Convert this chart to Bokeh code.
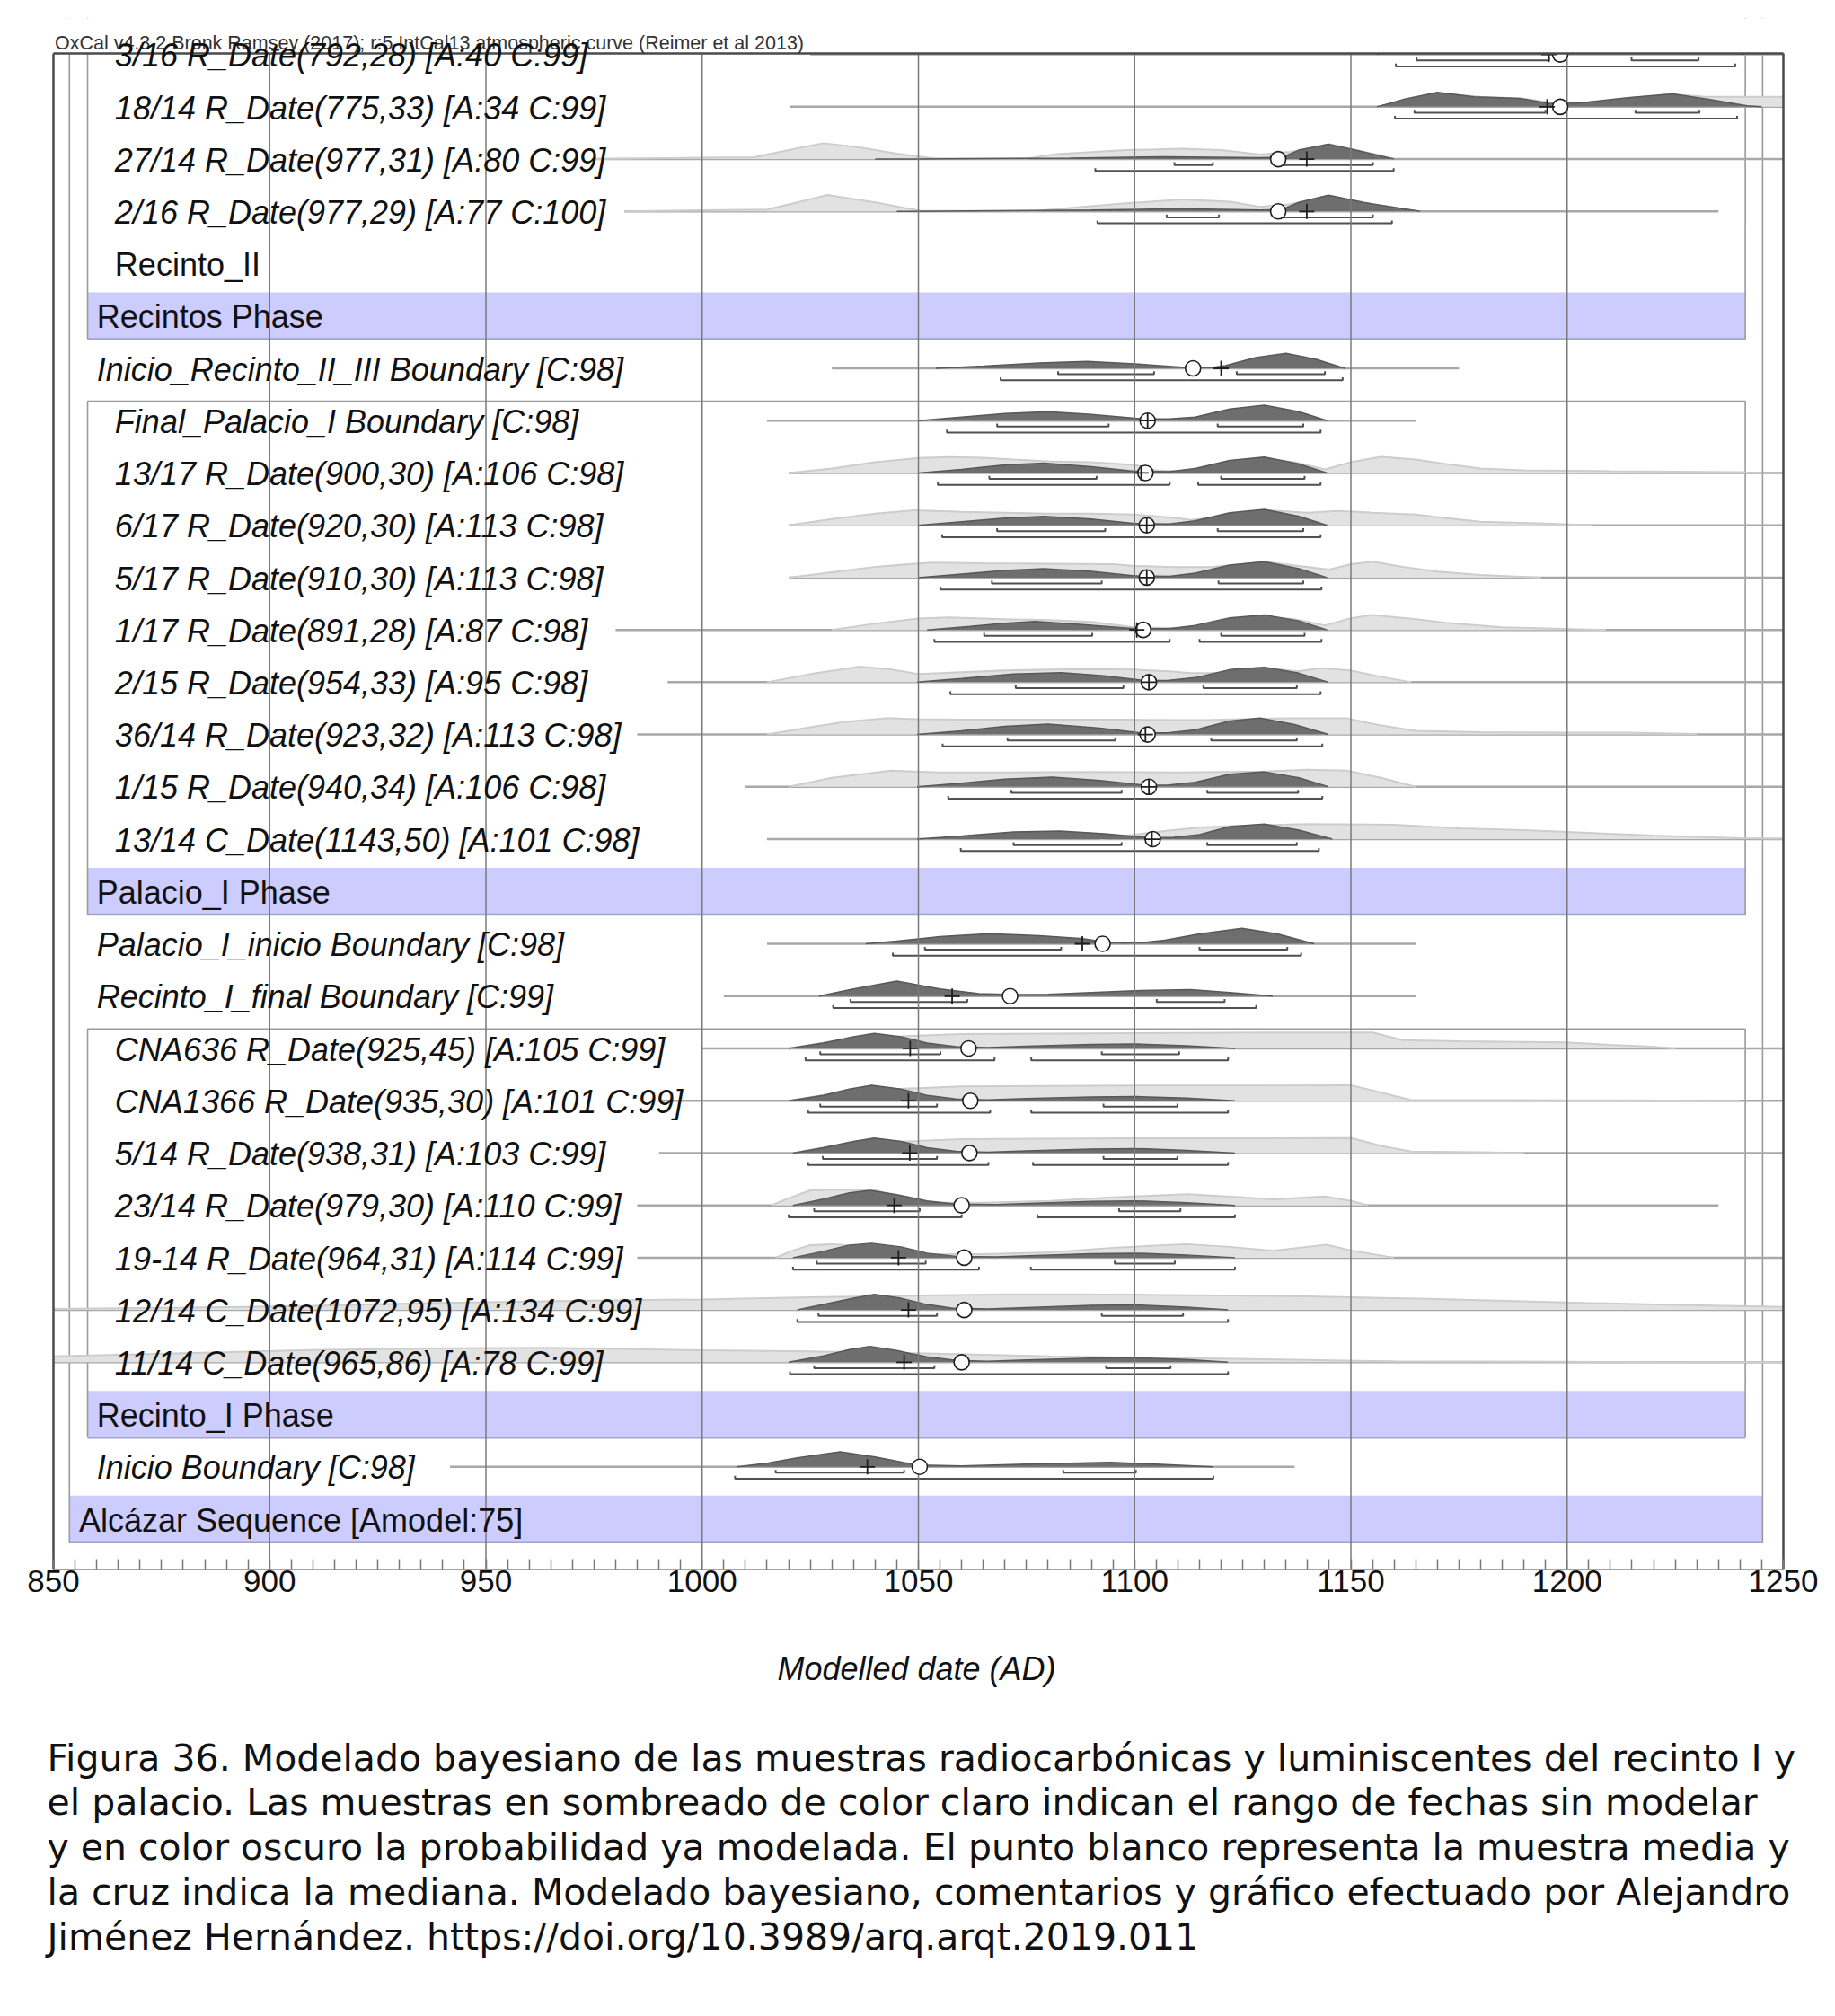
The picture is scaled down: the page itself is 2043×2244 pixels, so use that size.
from bokeh.plotting import figure
from bokeh.models import Range1d, FixedTicker, ColumnDataSource
from bokeh.layouts import column
from bokeh.embed import file_html
from bokeh.resources import INLINE
from bokeh.core.properties import value

# ------------------------------------------------------------------ data
HEADER = "OxCal v4.3.2 Bronk Ramsey (2017); r:5 IntCal13 atmospheric curve (Reimer et al 2013)"
X_TITLE = "Modelled date (AD)"
TICK_YEARS = [850, 900, 950, 1000, 1050, 1100, 1150, 1200, 1250]
MINOR_YEARS = [850 + 5 * k for k in range(81)]
GRID_YEARS = [900, 950, 1000, 1050, 1100, 1150, 1200]

ROW_LABELS = [
    "3/16 R_Date(792,28) [A:40 C:99]",
    "18/14 R_Date(775,33) [A:34 C:99]",
    "27/14 R_Date(977,31) [A:80 C:99]",
    "2/16 R_Date(977,29) [A:77 C:100]",
    "Recinto_II",
    "Recintos Phase",
    "Inicio_Recinto_II_III Boundary [C:98]",
    "Final_Palacio_I Boundary [C:98]",
    "13/17 R_Date(900,30) [A:106 C:98]",
    "6/17 R_Date(920,30) [A:113 C:98]",
    "5/17 R_Date(910,30) [A:113 C:98]",
    "1/17 R_Date(891,28) [A:87 C:98]",
    "2/15 R_Date(954,33) [A:95 C:98]",
    "36/14 R_Date(923,32) [A:113 C:98]",
    "1/15 R_Date(940,34) [A:106 C:98]",
    "13/14 C_Date(1143,50) [A:101 C:98]",
    "Palacio_I Phase",
    "Palacio_I_inicio Boundary [C:98]",
    "Recinto_I_final Boundary [C:99]",
    "CNA636 R_Date(925,45) [A:105 C:99]",
    "CNA1366 R_Date(935,30) [A:101 C:99]",
    "5/14 R_Date(938,31) [A:103 C:99]",
    "23/14 R_Date(979,30) [A:110 C:99]",
    "19-14 R_Date(964,31) [A:114 C:99]",
    "12/14 C_Date(1072,95) [A:134 C:99]",
    "11/14 C_Date(965,86) [A:78 C:99]",
    "Recinto_I Phase",
    "Inicio Boundary [C:98]",
    "Alcázar Sequence [Amodel:75]",
]
ROW_ITALIC = [True, True, True, True, False, False, True, True, True, True,
              True, True, True, True, True, True, False, True, True, True,
              True, True, True, True, True, True, False, True, False]
ROW_LEVEL = [2, 2, 2, 2, 2, 1, 1, 2, 2, 2, 2, 2, 2, 2, 2, 2, 1, 1, 1, 2,
             2, 2, 2, 2, 2, 2, 1, 1, 0]
PHASE_ROWS = [5, 16, 26]
SEQUENCE_ROW = 28

# prior range line (start, end) per row
LINE_RANGE = {
    0: (1025, 1250), 1: (1020.4, 1250), 2: (975, 1250), 3: (982, 1235),
    6: (1030, 1175), 7: (1015, 1165), 8: (1020, 1250), 9: (1020, 1250),
    10: (1020, 1250), 11: (980, 1250), 12: (992, 1250), 13: (985, 1250),
    14: (1010, 1250), 15: (1015, 1250), 17: (1015, 1165), 18: (1005, 1165),
    19: (1000, 1250), 20: (990, 1250), 21: (990, 1250), 22: (985, 1235),
    23: (985, 1250), 24: (850, 1250), 25: (850, 1250), 27: (941.7, 1137),
}

# unmodelled (light) likelihoods: (year, relative height)
LIGHT_CURVES = {
    1: [(1156, 0), (1165, 9), (1170, 15), (1180, 11), (1190, 9), (1197, 4), (1205, 5),
        (1215, 10), (1224, 14), (1232, 11), (1240, 11), (1250, 11)],
    2: [(975, 0), (1000, 1.7), (1012, 2), (1020, 10), (1028, 17.7), (1036, 13.3), (1045, 6),
        (1054, 0.5), (1075, 0.5), (1082, 5.7), (1098, 10), (1111, 11.7), (1120, 10),
        (1129, 5), (1136, 8), (1145, 16.5), (1155, 6), (1160, 0)],
    3: [(982, 0), (1000, 1.3), (1015, 2), (1022, 10), (1029, 18.3), (1040, 10), (1050.6, 0.5),
        (1077, 0.5), (1098, 9), (1111, 13.3), (1122, 10.7), (1129, 5), (1136, 8),
        (1145, 17.5), (1155, 7), (1166, 0)],
    8: [(1020, 0), (1030, 5), (1040, 12), (1050, 16.7), (1057, 17.7), (1065, 17), (1072, 15),
        (1080, 13), (1090, 12), (1100, 9), (1105, 3), (1110, 2), (1118, 6), (1125, 13),
        (1130, 16), (1137, 12), (1144, 4), (1150, 12), (1157, 18), (1165, 15), (1172, 10),
        (1180, 5), (1190, 3), (1210, 2), (1240, 1), (1245, 0)],
    9: [(1020, 0), (1030, 7), (1040, 13), (1049, 16.7), (1060, 15), (1070, 14), (1080, 13),
        (1090, 13), (1100, 12), (1110, 8), (1113, 6), (1120, 10), (1130, 17), (1140, 14),
        (1147, 16), (1155, 14), (1165, 12), (1172, 8), (1180, 4), (1195, 2), (1206, 0)],
    10: [(1020, 0), (1030, 6), (1040, 12), (1053, 16.7), (1065, 16), (1080, 15.5), (1095, 15),
         (1100, 13), (1109, 11.7), (1118, 12), (1125, 15), (1130, 17.7), (1138, 13), (1145, 9),
         (1150, 15), (1155, 17.7), (1162, 12), (1170, 6.7), (1180, 3), (1194, 0)],
    11: [(1030, 0), (1040, 7), (1050, 12.7), (1057, 14), (1070, 12), (1080, 11), (1090, 9),
         (1100, 3), (1110, 2), (1120, 8), (1130, 15), (1137, 12), (1144, 5), (1150, 13),
         (1155, 16.7), (1165, 12), (1172, 8), (1185, 3), (1209, 0)],
    12: [(1015, 0), (1025, 9), (1036.5, 17.3), (1044, 14), (1050, 9), (1060, 11), (1070, 13),
         (1080, 14), (1090, 14.5), (1100, 14), (1108, 12), (1113, 10), (1120, 10), (1130, 16),
         (1137.8, 12), (1143, 15.7), (1150, 13), (1157, 6), (1164, 0)],
    13: [(1015, 0), (1025, 8), (1033, 14), (1043, 18.3), (1050, 17), (1060, 16.5), (1080, 16.7),
         (1100, 16.5), (1116, 16), (1125, 17), (1135, 18), (1149, 18), (1157, 10), (1165, 4),
         (1180, 2.5), (1200, 2), (1214, 2), (1230, 0.5)],
    14: [(1020, 0), (1030, 10), (1043.7, 18), (1055, 16), (1070, 16), (1090, 16.5), (1110, 16),
         (1130, 17), (1140, 19), (1149, 18), (1157, 10), (1165, 0)],
    15: [(1092, 0), (1105, 8), (1115, 13), (1125, 15), (1140, 16.7), (1160, 16), (1175, 12),
         (1190, 10), (1200, 8), (1220, 4), (1240, 1), (1250, 0.5)],
    19: [(1020, 0), (1030, 8), (1040, 12), (1049.7, 14.3), (1060, 16), (1080, 16.5), (1100, 17),
         (1130, 17.7), (1155, 17.7), (1162, 9.3), (1175, 8), (1199.6, 6.7), (1210, 4),
         (1219.4, 2), (1225, 0)],
    20: [(1020, 0), (1030, 8), (1040, 12), (1049.7, 14), (1060, 16), (1080, 16.5), (1100, 17),
         (1130, 17), (1150, 17.3), (1157, 9), (1163.8, 1), (1200, 0.5), (1240, 0)],
    21: [(1021, 0), (1030, 8), (1040, 12), (1049.7, 13.3), (1060, 15.5), (1080, 16), (1100, 16.5),
         (1130, 16.5), (1150, 16.7), (1157, 8), (1164, 1.7), (1180, 1), (1190, 0)],
    22: [(1016, 0), (1020, 8), (1025, 16.7), (1030, 17.3), (1040, 17), (1050.7, 3), (1065, 3),
         (1080.5, 5), (1095, 9), (1112.2, 12.3), (1125, 9), (1132, 6.7), (1140, 9), (1144, 10),
         (1150, 5), (1154, 0)],
    23: [(1017, 0), (1021, 8), (1025, 14), (1030, 15), (1045, 10), (1052, 4), (1065, 4),
         (1080.5, 6), (1095, 11), (1112, 15), (1122, 12), (1132, 7.7), (1138, 11),
         (1144.4, 14.3), (1150, 8), (1159.9, 0)],
    24: [(850, 1), (880, 2.5), (910, 4.5), (941.6, 8), (970, 10), (1000, 11.7), (1025, 14),
         (1049.7, 16), (1072, 17.3), (1100, 17), (1120, 16), (1140, 15), (1170, 12),
         (1199.6, 8.3), (1225, 5.5), (1250, 3.3)],
    25: [(850, 6.5), (880, 10), (910, 13.5), (940, 15.5), (965, 16), (1000, 13.3), (1025, 12),
         (1049.7, 10), (1080.5, 6.7), (1100, 5), (1120, 4), (1140, 2.5), (1160, 1), (1200, 0.5),
         (1250, 0)],
}

# modelled (dark) posteriors: (year, relative height)
DARK_CURVES = {
    0: [(1156, 0), (1168, 14), (1185, 9), (1197, 4), (1222, 13), (1241, 0)],
    1: [(1156, 0), (1162, 8), (1170, 16), (1178.5, 11), (1189, 9.3), (1196, 3.7), (1203, 4.3),
        (1214, 10), (1224.4, 14.3), (1233, 8), (1241.6, 1), (1245, 0)],
    2: [(1040, 0), (1085, 1), (1107, 2.7), (1129, 1.7), (1134, 2), (1138, 10), (1144.8, 16.7),
        (1152, 9), (1160, 0)],
    3: [(1045, 0), (1090, 1.5), (1110, 3), (1129, 1.5), (1134, 2), (1138, 10), (1144.8, 18),
        (1153, 10), (1166, 0)],
    6: [(1054, 0), (1065, 2.5), (1078, 6), (1089, 7.7), (1100, 5), (1111.6, 1), (1118, 1),
        (1121, 3), (1128, 12), (1135, 16.7), (1142, 10), (1148.6, 0)],
    7: [(1050, 0), (1060, 4), (1070, 8), (1080, 10), (1090, 7), (1102, 2), (1108, 2), (1114, 4),
        (1122, 13), (1130, 17.3), (1138, 10), (1144.5, 0)],
    8: [(1050, 0), (1060, 4), (1070, 9), (1079, 11), (1090, 7), (1099.8, 2), (1108, 1.5),
        (1114, 5), (1122, 14), (1130, 17.7), (1138, 10), (1144.5, 0)],
    9: [(1050, 0), (1060, 4), (1070, 8), (1079, 10), (1090, 7), (1100, 2), (1108, 1.5),
        (1114, 5), (1122, 14), (1130, 17.7), (1138, 10), (1144.5, 0)],
    10: [(1050, 0), (1060, 4), (1070, 8), (1079, 10), (1090, 7), (1100, 2), (1108, 1.5),
         (1114, 5), (1122, 14), (1130, 17.7), (1138, 10), (1144.5, 0)],
    11: [(1052, 0), (1062, 4), (1070, 7.5), (1077, 9.3), (1088, 6), (1100, 1.5), (1108, 1.5),
         (1114, 5), (1122, 13.5), (1130, 16.7), (1138, 10), (1144.5, 0)],
    12: [(1049.7, 0), (1060, 4), (1072, 9), (1083, 10.7), (1093, 7), (1103, 1.5), (1108, 2),
         (1114, 5), (1122, 14), (1130, 16.7), (1138, 10), (1144.8, 0)],
    13: [(1049.7, 0), (1060, 4), (1070, 9), (1080, 11.7), (1092, 7), (1102, 1.5), (1108, 2),
         (1114, 5), (1122, 15), (1129, 18.3), (1137, 11), (1144.8, 0)],
    14: [(1049.7, 0), (1060, 4), (1070, 8.5), (1081, 10.7), (1092, 7), (1103, 1.5), (1108, 2),
         (1114, 5), (1122, 14), (1130, 16.7), (1138, 10), (1144.8, 0)],
    15: [(1049.7, 0), (1060, 3.5), (1072, 8), (1082.7, 9), (1093, 6), (1103.7, 1.5), (1109, 2),
         (1115, 5), (1122, 14), (1130, 16.7), (1138, 10), (1145.7, 0)],
    17: [(1037.8, 0), (1045, 3), (1055, 8), (1066.4, 11.3), (1078, 9), (1088, 5.7), (1093, 2),
         (1097.4, 1), (1102, 1.5), (1107, 4), (1115, 11), (1124.8, 17.3), (1133, 11),
         (1141.5, 0)],
    18: [(1027, 0), (1035, 8), (1045, 16.7), (1055, 8), (1064, 2.7), (1072, 1.7), (1080, 2),
         (1090, 4), (1100, 6), (1112.9, 7.3), (1122, 4), (1131.9, 0)],
    19: [(1020, 0), (1028, 6), (1035, 13), (1039.8, 16.7), (1046, 13), (1052, 6), (1058.7, 2),
         (1066, 1), (1075, 2.5), (1090, 4.5), (1100.3, 5), (1112, 3), (1123.2, 0)],
    20: [(1020, 0), (1028, 6), (1034, 13), (1039.2, 17.3), (1046, 13), (1052, 6), (1058.7, 2),
         (1066, 1), (1075, 2.5), (1090, 4.2), (1100.3, 4.7), (1112, 3), (1123.2, 0)],
    21: [(1021, 0), (1028, 6), (1035, 13), (1039.8, 16.7), (1046, 13), (1052, 6), (1058.7, 2),
         (1066, 1), (1075, 2.5), (1090, 4.5), (1100.3, 5), (1112, 3), (1123.2, 0)],
    22: [(1021, 0), (1028, 7), (1034, 14), (1038.8, 16.7), (1045, 12), (1052, 5), (1058.7, 1.5),
         (1068, 1), (1077, 2.5), (1090, 4.5), (1100.3, 5), (1112, 3), (1123.2, 0)],
    23: [(1021, 0), (1028, 7), (1034, 14), (1039.2, 16), (1046, 12), (1052, 5), (1058.7, 1.5),
         (1068, 1), (1077, 2.5), (1090, 4.5), (1100.3, 5), (1112, 3), (1123.2, 0)],
    24: [(1022, 0), (1030, 8), (1035, 13), (1039.8, 17.3), (1046, 13), (1052, 6), (1057.7, 2),
         (1066, 1), (1075, 2.5), (1090, 5), (1100.3, 5.7), (1112, 3), (1121.6, 0)],
    25: [(1020, 0), (1028, 7), (1034, 14), (1038.8, 17.7), (1045, 13), (1052, 6), (1058.7, 2),
         (1066, 1), (1075, 2.5), (1090, 4.5), (1100.3, 5), (1112, 3), (1121.6, 0)],
    27: [(1008, 0), (1015, 4), (1022, 10), (1031.9, 16.7), (1040, 11), (1049.7, 2), (1060, 1),
         (1075, 3), (1094.4, 5), (1105, 3), (1118, 0)],
}

# 68.2% and 95.4% highest-density ranges
RANGE_68 = {
    0: [(1165.2, 1195.8), (1214.9, 1230.4)], 1: [(1164.7, 1195.0), (1215.8, 1230.6)],
    2: [(1109.2, 1118.1), (1134.1, 1155.1)], 3: [(1107.4, 1119.5), (1133.7, 1155.1)],
    6: [(1082.3, 1104.5), (1123.6, 1144.0)], 7: [(1068.2, 1094.0), (1119.2, 1139.0)],
    8: [(1066.4, 1091.2), (1120.0, 1139.3)], 9: [(1068.2, 1093.2), (1119.2, 1139.0)],
    10: [(1067.0, 1092.4), (1119.4, 1139.0)], 11: [(1065.2, 1090.2), (1120.0, 1139.3)],
    12: [(1072.5, 1097.4), (1115.9, 1137.5)], 13: [(1070.6, 1095.5), (1117.7, 1137.5)],
    14: [(1071.5, 1097.0), (1116.8, 1137.8)], 15: [(1072.0, 1097.0), (1116.8, 1137.5)],
    17: [(1051.5, 1083.0), (1115.0, 1135.3)], 18: [(1034.3, 1061.3), (1105.1, 1120.8)],
    19: [(1027.3, 1055.1), (1092.4, 1110.3)], 20: [(1027.3, 1054.3), (1092.8, 1109.9)],
    21: [(1027.9, 1054.3), (1092.8, 1109.9)], 22: [(1025.9, 1050.3), (1096.4, 1110.6)],
    23: [(1026.5, 1051.7), (1095.4, 1109.3)], 24: [(1026.9, 1054.3), (1092.4, 1111.2)],
    25: [(1025.9, 1053.7), (1093.4, 1108.3)], 27: [(1017.0, 1046.7), (1083.5, 1100.3)],
}
RANGE_95 = {
    0: [(1160.4, 1238.9)], 1: [(1160.2, 1239.3)], 2: [(1090.9, 1159.9)], 3: [(1091.4, 1159.5)],
    6: [(1069.0, 1148.1)], 7: [(1056.6, 1143.0)], 8: [(1054.5, 1108.1), (1114.7, 1143.0)],
    9: [(1055.5, 1143.0)], 10: [(1055.1, 1143.2)], 11: [(1053.7, 1108.1), (1115.0, 1143.2)],
    12: [(1057.4, 1143.0)], 13: [(1055.6, 1143.4)], 14: [(1056.9, 1143.4)], 15: [(1059.8, 1142.6)],
    17: [(1044.1, 1138.5)], 18: [(1030.3, 1128.1)],
    19: [(1023.9, 1067.6), (1076.1, 1121.6)], 20: [(1024.5, 1066.6), (1076.1, 1121.6)],
    21: [(1024.5, 1066.2), (1076.5, 1121.6)], 22: [(1020.0, 1060.0), (1077.5, 1123.2)],
    23: [(1021.0, 1064.0), (1076.0, 1123.2)], 24: [(1022.0, 1121.6)], 25: [(1020.3, 1121.6)],
    27: [(1007.6, 1118.2)],
}
MEAN = {0: 1198.4, 1: 1198.4, 2: 1133.2, 3: 1133.2, 6: 1113.5, 7: 1103.0, 8: 1102.5,
        9: 1102.8, 10: 1102.8, 11: 1102.0, 12: 1103.3, 13: 1103.0, 14: 1103.3, 15: 1104.2,
        17: 1092.6, 18: 1071.2, 19: 1061.6, 20: 1062.0, 21: 1061.8, 22: 1060.0, 23: 1060.6,
        24: 1060.6, 25: 1060.0, 27: 1050.3}
MEDIAN = {0: 1195.8, 1: 1195.4, 2: 1139.8, 3: 1139.8, 6: 1120.0, 7: 1103.0, 8: 1101.5,
          9: 1102.8, 10: 1102.8, 11: 1100.5, 12: 1103.3, 13: 1102.5, 14: 1103.3, 15: 1104.0,
          17: 1087.9, 18: 1057.8, 19: 1048.1, 20: 1047.7, 21: 1048.0, 22: 1044.4, 23: 1045.4,
          24: 1047.7, 25: 1046.7, 27: 1038.2}

CAPTION = [
    "Figura 36. Modelado bayesiano de las muestras radiocarbónicas y luminiscentes del recinto I y",
    "el palacio. Las muestras en sombreado de color claro indican el rango de fechas sin modelar",
    "y en color oscuro la probabilidad ya modelada. El punto blanco representa la muestra media y",
    "la cruz indica la mediana. Modelado bayesiano, comentarios y gráfico efectuado por Alejandro",
    "Jiménez Hernández. https://doi.org/10.3989/arq.arqt.2019.011",
]

# ------------------------------------------------------------------ style / layout
PAGE_W = 2040
FRAME_LEFT_PX = 59             # pixel of year 850
PX_PER_YEAR = 1926 / 400.0
X0 = 850 - FRAME_LEFT_PX / PX_PER_YEAR
X1 = 850 + (PAGE_W - FRAME_LEFT_PX) / PX_PER_YEAR

ROW_PX = 58.23
HSCALE = 1.0 / ROW_PX          # height units -> rows
Y_TOP, Y_BOT = -0.689, 28.97
FRAME_TOP = -0.019
LEVEL_X = {0: 855.9, 1: 860.0, 2: 864.2}
TEXT_DY = 0.02
PHASE_L, PHASE_R = 857.9, 1241.2
SEQ_L, SEQ_R = 853.7, 1245.2
BAND_UP, BAND_DN = 0.45, 0.44
PHASE_TOPS = {5: -1.0, 16: 6.63, 26: 18.63}
IN_OFF, OUT_OFF, TICK = 0.113, 0.228, 0.055

LIGHT_FILL, LIGHT_LINE = "#e2e2e2", "#cdcdcd"
DARK_FILL, DARK_LINE = "#6e6e6e", "#585858"
BASE_COL = "#a8a8a8"
BRACKET_COL = "#505050"
GRID_COL = "#7a7a7a"
BAND_COL = "#ccccff"
BOX_COL = "#9a9a9a"
FRAME_COL = "#4a4a4a"
FONT = "Liberation Sans"

p = figure(width=PAGE_W, height=1900, x_range=Range1d(X0, X1),
           y_range=Range1d(Y_BOT, Y_TOP), toolbar_location=None,
           output_backend="svg", y_axis_location=None,
           min_border_left=0, min_border_right=0, min_border_top=20,
           min_border_bottom=153)
p.outline_line_color = None
p.xgrid.visible = False
p.ygrid.visible = False
p.background_fill_color = "white"

# bands (phases + sequence)
bl, br, bt, bb = [], [], [], []
for r in PHASE_ROWS:
    bl.append(PHASE_L); br.append(PHASE_R); bt.append(r - BAND_UP); bb.append(r + BAND_DN)
bl.append(SEQ_L); br.append(SEQ_R); bt.append(SEQUENCE_ROW - BAND_UP); bb.append(SEQUENCE_ROW + BAND_DN)
p.quad(left=bl, right=br, top=bt, bottom=bb, fill_color=BAND_COL, line_color=None)
p.multi_line(xs=[[l, rr] for l, rr in zip(bl, br)], ys=[[b, b] for b in bb],
             line_color="#a4a4c8", line_width=2.5)

# boxes
box_xs, box_ys = [], []
for r, top in PHASE_TOPS.items():
    bot = r + BAND_DN
    box_xs.append([PHASE_L, PHASE_L, PHASE_R, PHASE_R])
    box_ys.append([bot, top, top, bot])
box_xs.append([SEQ_L, SEQ_L]); box_ys.append([SEQUENCE_ROW + BAND_DN, -1.0])
box_xs.append([SEQ_R, SEQ_R]); box_ys.append([SEQUENCE_ROW + BAND_DN, -1.0])
p.multi_line(xs=box_xs, ys=box_ys, line_color=BOX_COL, line_width=1.6)

# prior lines
p.multi_line(xs=[[a, b] for a, b in LINE_RANGE.values()],
             ys=[[r, r] for r in LINE_RANGE.keys()], line_color=BASE_COL, line_width=2.5)


def curve_paths(curves):
    pxs, pys, lxs, lys = [], [], [], []
    for r, pts in curves.items():
        xs = [x for x, _ in pts]
        ys = [r - h * HSCALE for _, h in pts]
        pxs.append(xs + xs[::-1])
        pys.append(ys + [r] * len(xs))
        lxs.append(xs)
        lys.append(ys)
    return pxs, pys, lxs, lys


lpx, lpy, llx, lly = curve_paths(LIGHT_CURVES)
p.patches(xs=lpx, ys=lpy, fill_color=LIGHT_FILL, line_color=None)
p.multi_line(xs=llx, ys=lly, line_color=LIGHT_LINE, line_width=2)
dpx, dpy, dlx, dly = curve_paths(DARK_CURVES)
p.patches(xs=dpx, ys=dpy, fill_color=DARK_FILL, line_color=None)
p.multi_line(xs=dlx, ys=dly, line_color=DARK_LINE, line_width=1.5)

# brackets
kx, ky = [], []
for ranges, off in ((RANGE_68, IN_OFF), (RANGE_95, OUT_OFF)):
    for r, ivs in ranges.items():
        y = r + off
        for a, b in ivs:
            kx.append([a, a, b, b])
            ky.append([y - TICK, y, y, y - TICK])
p.multi_line(xs=kx, ys=ky, line_color=BRACKET_COL, line_width=2)

# vertical grid lines
p.multi_line(xs=[[g, g] for g in GRID_YEARS], ys=[[FRAME_TOP, Y_BOT] for _ in GRID_YEARS],
             line_color=GRID_COL, line_width=1.5)

# mean and median
p.scatter(x=list(MEAN.values()), y=list(MEAN.keys()), marker="circle", size=17,
          fill_color="white", line_color="#1e1e1e", line_width=1.6)
p.scatter(x=list(MEDIAN.values()), y=list(MEDIAN.keys()), marker="cross", size=17,
          line_color="#1e1e1e", line_width=1.8)

# white cover above the frame
p.quad(left=[X0], right=[X1], top=[Y_TOP], bottom=[FRAME_TOP], fill_color="white",
       line_color=None)

# frame (bottom edge doubles as axis line)
p.multi_line(xs=[[850, 1250], [850, 850], [1250, 1250], [850, 1250]],
             ys=[[FRAME_TOP, FRAME_TOP], [FRAME_TOP, Y_BOT], [FRAME_TOP, Y_BOT],
                 [Y_BOT, Y_BOT]],
             line_color=FRAME_COL, line_width=2.5)

# header text
p.text(x=[850.3], y=[-0.22], text=[HEADER], text_font=value(FONT), text_font_size="21.5px",
       text_color="#333333", text_baseline="alphabetic", text_align="left")

# row labels
for style in ("italic", "normal"):
    idx = [i for i in range(len(ROW_LABELS)) if ROW_ITALIC[i] == (style == "italic")]
    src = ColumnDataSource(dict(x=[LEVEL_X[ROW_LEVEL[i]] for i in idx],
                                y=[i + TEXT_DY for i in idx],
                                t=[ROW_LABELS[i] for i in idx]))
    p.text(x="x", y="y", text="t", source=src, text_font=value(FONT),
           text_font_style=style, text_font_size="36px", text_color="#111111",
           text_baseline="alphabetic", text_align="left")

# axis
ax = p.xaxis[0]
ax.ticker = FixedTicker(ticks=TICK_YEARS, minor_ticks=MINOR_YEARS)
ax.major_tick_in = 0
ax.major_tick_out = 0
ax.minor_tick_in = 12
ax.minor_tick_out = 0
ax.minor_tick_line_color = "#777777"
ax.minor_tick_line_width = 1.5
ax.axis_line_color = None
ax.major_label_text_font = FONT
ax.major_label_text_font_size = "35px"
ax.major_label_text_color = "#111111"
ax.major_label_standoff = 0
ax.axis_label = X_TITLE
ax.axis_label_text_font = FONT
ax.axis_label_text_font_style = "italic"
ax.axis_label_text_font_size = "36px"
ax.axis_label_text_color = "#111111"
ax.axis_label_standoff = 62

# caption
CAP_H = 340
cap = figure(width=PAGE_W, height=CAP_H, x_range=Range1d(0, PAGE_W), y_range=Range1d(CAP_H, 0),
             toolbar_location=None, output_backend="svg",
             min_border_left=0, min_border_right=0, min_border_top=0, min_border_bottom=0,
             x_axis_location=None, y_axis_location=None)
cap.outline_line_color = None
cap.xgrid.visible = False
cap.ygrid.visible = False
cap_y = [56, 105.8, 155.6, 205.4, 255.2]
cap.text(x=[52] * len(CAPTION), y=cap_y, text=CAPTION, text_font=value("DejaVu Sans"),
         text_font_size="41px", text_color="#111111", text_baseline="alphabetic",
         text_align="left")

layout = column(p, cap)
open("out.html", "w").write(file_html(layout, INLINE))
